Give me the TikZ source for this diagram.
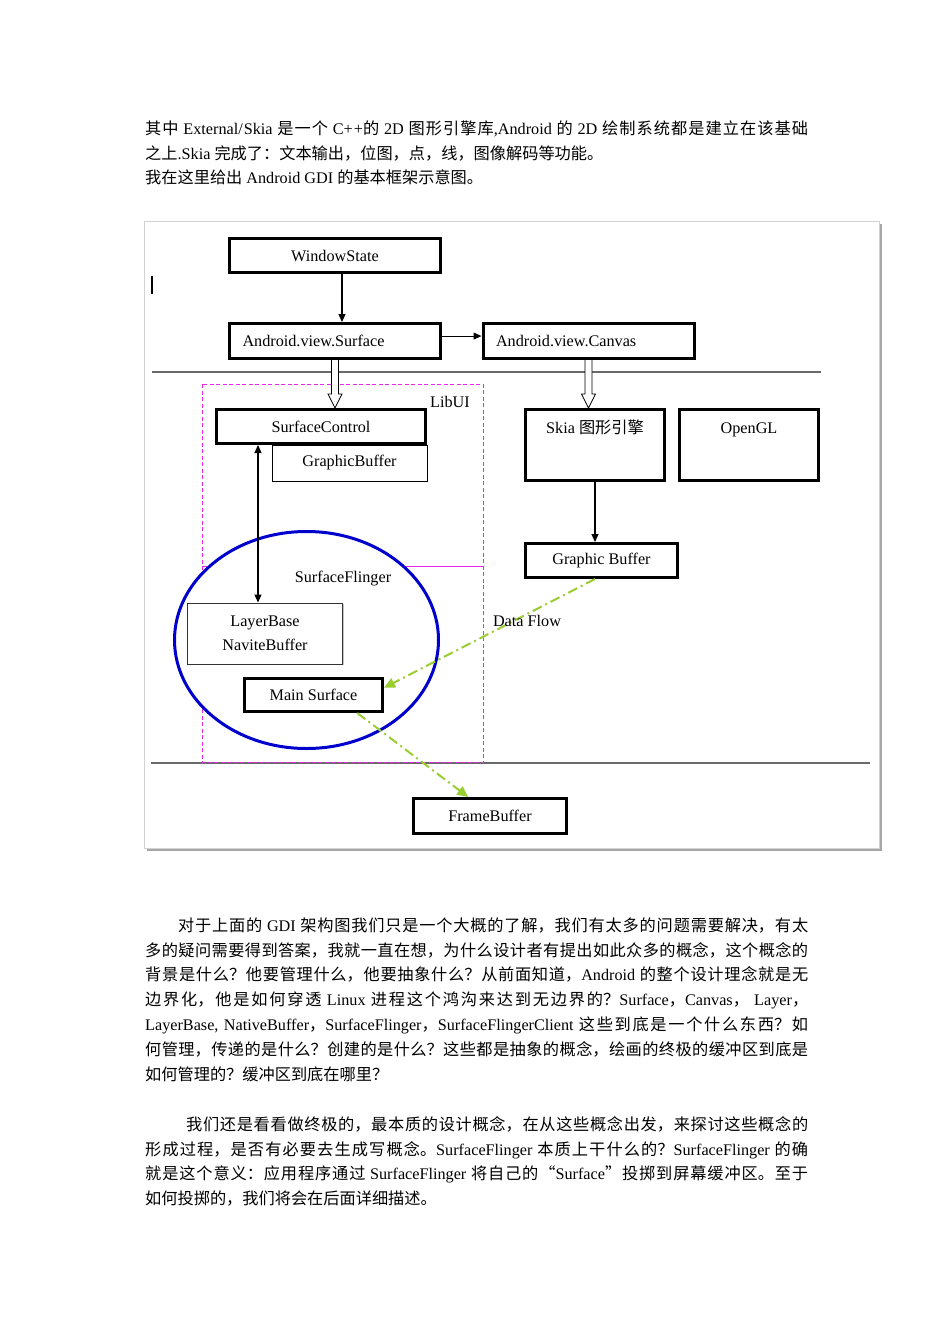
\documentclass[tikz,border=0pt]{standalone}
\usepackage{fontspec}
\setmainfont{Liberation Serif}
\newfontfamily\cjkfont{Noto Sans CJK SC}
\usetikzlibrary{arrows.meta,calc,shapes.geometric,shadows}
\XeTeXinterchartokenstate=1
\newXeTeXintercharclass\cjkclass
\newcount\cjkc
\cjkc="4E00 \loop \XeTeXcharclass\cjkc=\cjkclass \ifnum\cjkc<"9FFF \advance\cjkc by 1 \repeat
\cjkc="3000 \loop \XeTeXcharclass\cjkc=\cjkclass \ifnum\cjkc<"303F \advance\cjkc by 1 \repeat
\cjkc="FF01 \loop \XeTeXcharclass\cjkc=\cjkclass \ifnum\cjkc<"FF60 \advance\cjkc by 1 \repeat
\XeTeXcharclass "201C = \cjkclass
\XeTeXcharclass "201D = \cjkclass
\XeTeXinterchartoks 0 \cjkclass = {\begingroup\cjkfont}
\XeTeXinterchartoks 4095 \cjkclass = {\begingroup\cjkfont}
\XeTeXinterchartoks \cjkclass 0 = {\endgroup}
\XeTeXinterchartoks \cjkclass 4095 = {\endgroup}
\XeTeXlinebreaklocale "zh"
\XeTeXlinebreakskip=0pt plus 3pt minus 0.3pt
\XeTeXlinebreakpenalty=10000
\definecolor{flowgreen}{RGB}{154,205,50}
\definecolor{libmag}{RGB}{232,40,232}
\definecolor{sfblue}{RGB}{0,0,204}
\definecolor{sepgray}{RGB}{105,105,105}
\tikzset{
  para/.style={anchor=north west, inner sep=0pt, text width=663pt, align=justify,
    font=\fontsize{16.2}{24.85}\selectfont},
  dfont/.style={font=\fontsize{16.2}{24}\selectfont},
  tbox/.style={draw=black, line width=3pt, inner sep=0pt, fill=white, dfont},
  nbox/.style={draw=black, line width=1pt, inner sep=0pt, fill=white, dfont},
  lbl/.style={inner sep=0pt, dfont},
  toplbl/.style={lbl, anchor=north, text height=13pt, yshift=-12pt},
  conn/.style={draw=black, line width=1.1pt, -{Triangle[length=8pt,width=7pt]}},
  dconn/.style={draw=black, line width=1.1pt, {Triangle[length=8pt,width=7pt]}-{Triangle[length=8pt,width=7pt]}},
  flow/.style={draw=flowgreen, line width=2pt, dash pattern=on 10pt off 4pt on 2pt off 4pt,
    -{Triangle[length=11pt,width=10pt]}},
  sepline/.style={draw=sepgray, line width=1.8pt},
  hollow/.style={draw=black, line width=0.8pt, fill=white},
}
\newcommand\hollowarr[2]{%
  \draw[hollow] let \p1=(#1), \p2=(#2) in
    (\x1-3.5pt,\y1) -- (\x1-3.5pt,\y2+14pt) -- (\x1-7pt,\y2+14pt) -- (\x1,\y2)
    -- (\x1+7pt,\y2+14pt) -- (\x1+3.5pt,\y2+14pt) -- (\x1+3.5pt,\y1);}
\begin{document}
\begin{tikzpicture}[x=1pt,y=-1pt]
\useasboundingbox (0,0) rectangle (950,1344);
\fill[white] (0,0) rectangle (950,1344);

% ---- body text ----
\node[para] (p1) at (145,116.6) {\strut 其中 External/Skia 是一个 C++的 2D 图形引擎库,Android 的 2D 绘制系统都是建立在该基础\linebreak 之上.Skia 完成了：文本输出，位图，点，线，图像解码等功能。};
\node[para] (p1b) at (145,166.4) {\strut 我在这里给出 Android GDI 的基本框架示意图。};

\node[para] (p2) at (145,913.6) {\strut\hspace*{33pt}对于上面的 GDI 架构图我们只是一个大概的了解，我们有太多的问题需要解决，有太\linebreak 多的疑问需要得到答案，我就一直在想，为什么设计者有提出如此众多的概念，这个概念的\linebreak 背景是什么？他要管理什么，他要抽象什么？从前面知道，Android 的整个设计理念就是无\linebreak 边界化，他是如何穿透 Linux 进程这个鸿沟来达到无边界的？Surface，Canvas， Layer，\linebreak LayerBase, NativeBuffer，SurfaceFlinger，SurfaceFlingerClient 这些到底是一个什么东西？如\linebreak 何管理，传递的是什么？创建的是什么？这些都是抽象的概念，绘画的终极的缓冲区到底是\linebreak 如何管理的？缓冲区到底在哪里？};

\node[para] (p3) at (145,1112.6) {\strut\hspace*{41pt}我们还是看看做终极的，最本质的设计概念，在从这些概念出发，来探讨这些概念的\linebreak 形成过程，是否有必要去生成写概念。SurfaceFlinger 本质上干什么的？SurfaceFlinger 的确\linebreak 就是这个意义：应用程序通过 SurfaceFlinger 将自己的“Surface”投掷到屏幕缓冲区。至于\linebreak 如何投掷的，我们将会在后面详细描述。};

% ---- diagram frame ----
\fill[gray!70] (147,224) rectangle (882,851);
\draw[fill=white, draw=gray!35, line width=1pt] (144,221) rectangle (879,848);
\draw[line width=2pt] (152,276) -- (152,294);

% separators
\draw[sepline] (152,372) -- (821,372);
\draw[sepline] (151,763) -- (870,763);

% LibUI region
\draw[libmag, line width=1pt, dash pattern=on 4pt off 2.5pt] (202,384) rectangle (483,762);
\draw[libmag, line width=1.2pt] (202,566.5) -- (483,566.5);
\node[lbl] (libui) at (450,402) {LibUI};

% SurfaceFlinger ellipse
\node[ellipse, draw=sfblue, line width=3pt, fill=white, minimum width=264pt, minimum height=217pt, inner sep=0pt] (sf) at (306.5,640) {};
\node[lbl] (sflbl) at (343,579) {SurfaceFlinger};

% boxes
\node[tbox, minimum width=211pt, minimum height=34pt] (ws) at (335,255.5) {WindowState};
\node[tbox, minimum width=211pt, minimum height=35pt, text width=185pt, align=left] (surf) at (335,341) {Android.view.Surface};
\node[tbox, minimum width=211pt, minimum height=35pt, text width=185pt, align=left] (canv) at (588.5,341) {Android.view.Canvas};
\node[nbox, minimum width=155pt, minimum height=36pt] (gbuf) at (349.5,463) {GraphicBuffer};
\node[tbox, minimum width=209pt, minimum height=34pt] (sc) at (321,426.5) {SurfaceControl};
\node[tbox, minimum width=139pt, minimum height=71pt,
  label={[toplbl]north:Skia 图形引擎}] (skia) at (595,445) {};
\node[tbox, minimum width=139pt, minimum height=71pt,
  label={[toplbl]north:OpenGL}] (ogl) at (749,445) {};
\node[tbox, minimum width=152pt, minimum height=34pt] (gb) at (601.5,560.5) {Graphic Buffer};
\node[nbox, draw=black!80, minimum width=155pt, minimum height=61pt, align=center,
  drop shadow={shadow xshift=1.2pt, shadow yshift=-1.2pt, opacity=0.45}] (lb) at (265,633.5) {LayerBase\\NaviteBuffer};
\node[tbox, minimum width=138pt, minimum height=33pt] (ms) at (313.5,695) {Main Surface};
\node[tbox, minimum width=153pt, minimum height=35pt] (fb) at (490,816) {FrameBuffer};

% connectors
\coordinate (wsout) at ($(ws.south)+(7,0)$);
\draw[conn] (wsout) -- (wsout |- surf.north);
\coordinate (surfout) at ($(surf.north east)!0.37!(surf.south east)$);
\draw[conn] (surfout) -- (surfout -| canv.west);
\hollowarr{surf.south}{sc.north -| surf.south}
\hollowarr{canv.south}{skia.north -| canv.south}
\draw[conn] (skia.south) -- (skia.south |- gb.north);
\coordinate (scout) at ($(sc.south west)+(43,0)$);
\draw[dconn] (scout) -- (scout |- lb.north);

% data flow
\draw[flow] ($(gb.south)+(-6.5,0)$) -- ($(ms.north east)!0.3!(ms.south east)$);
\draw[flow] ($(ms.south west)!0.81!(ms.south east)$) -- ($(fb.north west)!0.36!(fb.north east)$);
\node[lbl] (dflbl) at (527,621) {Data Flow};
\end{tikzpicture}
\end{document}
